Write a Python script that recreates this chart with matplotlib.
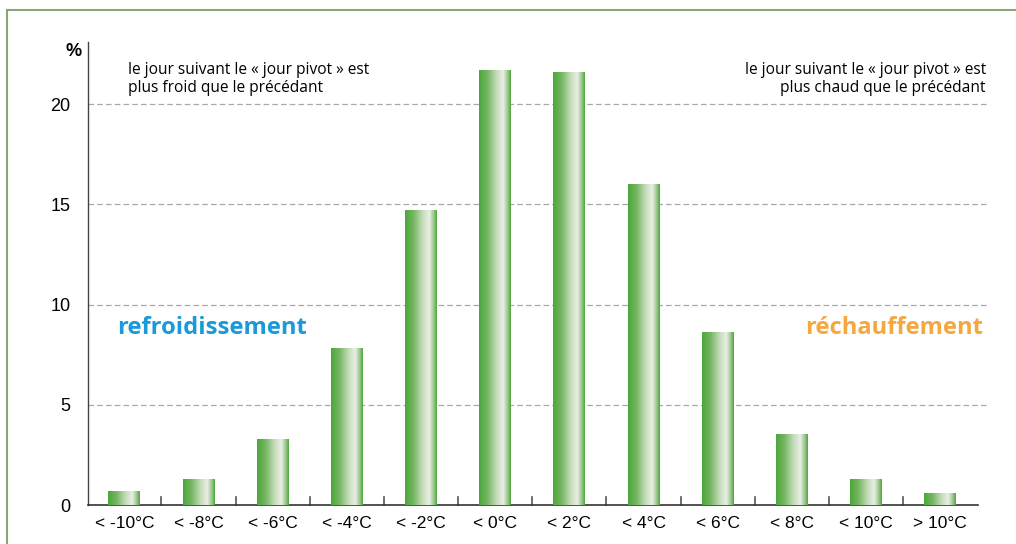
import numpy as np
import matplotlib
matplotlib.use("Agg")
import matplotlib.pyplot as plt
from matplotlib.colors import LinearSegmentedColormap
from matplotlib.lines import Line2D

categories = ["< -10°C", "< -8°C", "< -6°C", "< -4°C", "< -2°C", "< 0°C",
              "< 2°C", "< 4°C", "< 6°C", "< 8°C", "< 10°C", "> 10°C"]
values = [0.70, 1.30, 3.30, 7.83, 14.7, 21.7, 21.6, 16.0, 8.63, 3.54, 1.30, 0.62]
yticks = [0, 5, 10, 15, 20]
note_left = "le jour suivant le « jour pivot » est\nplus froid que le précédant"
note_right = "le jour suivant le « jour pivot » est\nplus chaud que le précédant"
label_left = "refroidissement"
label_right = "réchauffement"

W, H = 1016, 544
fig = plt.figure(figsize=(W / 100, H / 100), dpi=100)
ax = fig.add_axes([88 / W, (H - 505) / H, (978 - 88) / W, (505 - 42) / H])

x = np.arange(len(categories))
bars = ax.bar(x, values, width=0.43, color="none", edgecolor="none", zorder=3)

cmap = LinearSegmentedColormap.from_list(
    "g", [(0.0, "#4aa83a"), (0.25, "#72b45e"), (0.55, "#c4dcb8"),
          (0.76, "#eaeee6"), (0.9, "#9cc88c"), (1.0, "#4aa83a")])
grad = np.linspace(0, 1, 256).reshape(1, -1)
for b in bars:
    bx, by, bw, bh = b.get_x(), b.get_y(), b.get_width(), b.get_height()
    im = ax.imshow(grad, cmap=cmap, aspect="auto",
                   extent=[bx, bx + bw, by, by + bh], zorder=3,
                   interpolation="bilinear")
    im.set_clip_path(b)

ax.set_xlim(-0.49, 11.51)
ax.set_ylim(0, 23.1)

for yv in yticks[1:]:
    ax.axhline(yv, xmin=0, xmax=1.011, color="#a8a8a8", lw=0.9,
               ls=(0, (4.5, 2.5)), clip_on=False, zorder=1)

ax.set_yticks(yticks)
ax.set_yticklabels([str(v) for v in yticks], fontsize=13,
                   family=["Liberation Sans Narrow", "Liberation Sans"])
ax.tick_params(axis="y", length=0, pad=12.5)
ax.set_xticks(x)
ax.set_xticklabels(categories, fontsize=12.5,
                   family=["Liberation Sans Narrow", "Liberation Sans"])
ax.tick_params(axis="x", length=0, pad=8)

for s in ["top", "right"]:
    ax.spines[s].set_visible(False)
ax.spines["left"].set_color("#444444")
ax.spines["bottom"].set_color("#333333")
ax.spines["left"].set_linewidth(1.0)
ax.spines["bottom"].set_linewidth(1.2)

# category separator ticks (pointing up)
for xb in np.arange(0.5, len(categories) - 1, 1.0):
    ax.plot([xb, xb], [0, 0.4], color="#555555", lw=1.2, zorder=2,
            clip_on=False)

fig.text(74 / W, 1 - 52 / H, "%", ha="center", va="center",
         fontsize=13, fontweight="bold", family="Liberation Sans")

fig.text(128 / W, 1 - 79 / H, note_left, ha="left", va="center",
         fontsize=11.2, family="Open Sans", linespacing=1.15)
fig.text(986 / W, 1 - 79 / H, note_right, ha="right", va="center",
         fontsize=11.2, family="Open Sans", linespacing=1.15)

fig.text(117 / W, 1 - 328 / H, label_left, ha="left", va="center", fontsize=17.1,
         fontweight="bold", color="#1a9ad8", family="Open Sans")
fig.text(983 / W, 1 - 328 / H, label_right, ha="right", va="center",
         fontsize=17.1, fontweight="bold", color="#f5a83e", family="Open Sans")

# figure border (top & left)
fig.add_artist(Line2D([7 / W, 7 / W], [0, 1 - 10 / H], transform=fig.transFigure,
                      color="#8aa676", lw=1.5))
fig.add_artist(Line2D([7 / W, 1], [1 - 10 / H, 1 - 10 / H], transform=fig.transFigure,
                      color="#8aa676", lw=1.5))

fig.savefig("out.png", dpi=100)
